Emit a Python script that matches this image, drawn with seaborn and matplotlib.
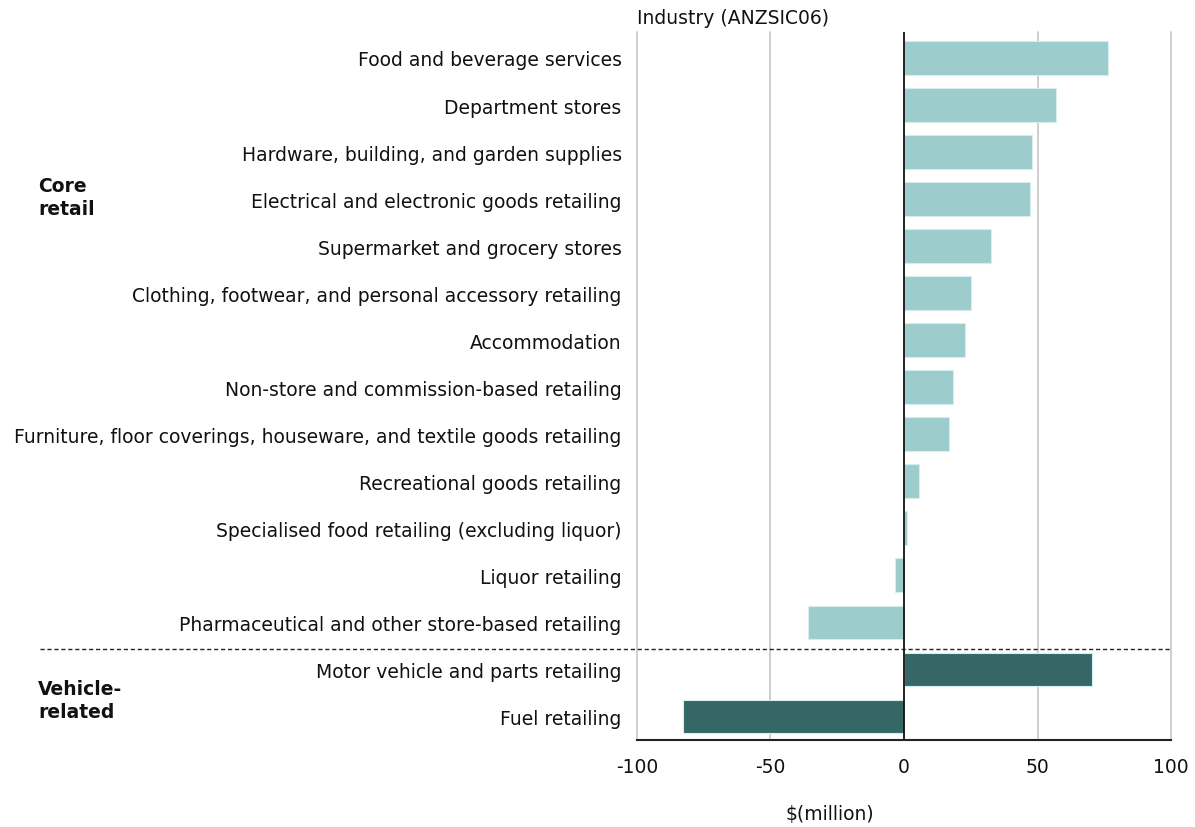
import matplotlib
matplotlib.use("Agg")
import matplotlib.pyplot as plt
import seaborn as sns
import pandas as pd

industries = [
    "Food and beverage services",
    "Department stores",
    "Hardware, building, and garden supplies",
    "Electrical and electronic goods retailing",
    "Supermarket and grocery stores",
    "Clothing, footwear, and personal accessory retailing",
    "Accommodation",
    "Non-store and commission-based retailing",
    "Furniture, floor coverings, houseware, and textile goods retailing",
    "Recreational goods retailing",
    "Specialised food retailing (excluding liquor)",
    "Liquor retailing",
    "Pharmaceutical and other store-based retailing",
    "Motor vehicle and parts retailing",
    "Fuel retailing",
]
change = [76.2, 56.9, 48.0, 47.2, 32.4, 24.9, 22.8, 18.3, 16.8, 5.6, 1.1, -3.2, -35.9, 70.3, -82.8]
groups = ["Core retail"] * 13 + ["Vehicle-related"] * 2
group_colors = {"Core retail": "#9ccccc", "Vehicle-related": "#356767"}
x_ticks = [-100, -50, 0, 50, 100]

df = pd.DataFrame({"industry": industries, "change": change, "group": groups})

sns.set_theme(style="white")
plt.rcParams["font.family"] = ["DejaVu Sans"]
plt.rcParams["text.color"] = "#111111"
plt.rcParams["xtick.color"] = "#111111"
plt.rcParams["ytick.color"] = "#111111"

FS = 13.5

fig = plt.figure(figsize=(11.95, 8.28), dpi=100)
ax = fig.add_axes([0.533, 0.105, 0.447, 0.855])

sns.barplot(data=df, y="industry", x="change", hue="group", palette=group_colors,
            orient="h", dodge=False, width=0.72, legend=False, ax=ax,
            saturation=1, edgecolor="#d6eeee", linewidth=0.8)

ax.set_xlim(-100, 100)
ax.set_ylim(14.5, -0.55)
ax.set_xticks(x_ticks)
ax.set_xticklabels([str(t) for t in x_ticks], fontsize=FS)
for t in x_ticks:
    if t != 0:
        ax.axvline(t, color="#cccccc", linewidth=1.3, zorder=0, clip_on=False)
ax.axvline(0, color="#111111", linewidth=1.3, zorder=3)

for s in ["top", "right", "left"]:
    ax.spines[s].set_visible(False)
ax.spines["bottom"].set_color("#222222")
ax.spines["bottom"].set_linewidth(1.5)
ax.spines["bottom"].set_zorder(4)
ax.tick_params(axis="y", length=0, pad=11, labelsize=FS)
ax.tick_params(axis="x", length=0, pad=12)
ax.set_ylabel("")
ax.set_xlabel("")

# dashed separator between the two industry groups, across labels and plot
sep = matplotlib.lines.Line2D([40 / 1195, 1171 / 1195], [1 - 650 / 828, 1 - 650 / 828],
                              transform=fig.transFigure, color="#222222",
                              linestyle=(0, (3, 2)), linewidth=1.0, zorder=5)
fig.add_artist(sep)

fig.text(637 / 1195, 1 - 18 / 828, "Industry (ANZSIC06)", ha="left", va="center", fontsize=FS)
fig.text(830 / 1195, 1 - 815 / 828, "$(million)", ha="center", va="center", fontsize=FS)
fig.text(38 / 1195, 1 - 198 / 828, "Core\nretail", ha="left", va="center",
         fontsize=FS, fontweight="bold", linespacing=1.3)
fig.text(38 / 1195, 1 - 701 / 828, "Vehicle-\nrelated", ha="left", va="center",
         fontsize=FS, fontweight="bold", linespacing=1.3)

fig.savefig("out.png", dpi=100)
